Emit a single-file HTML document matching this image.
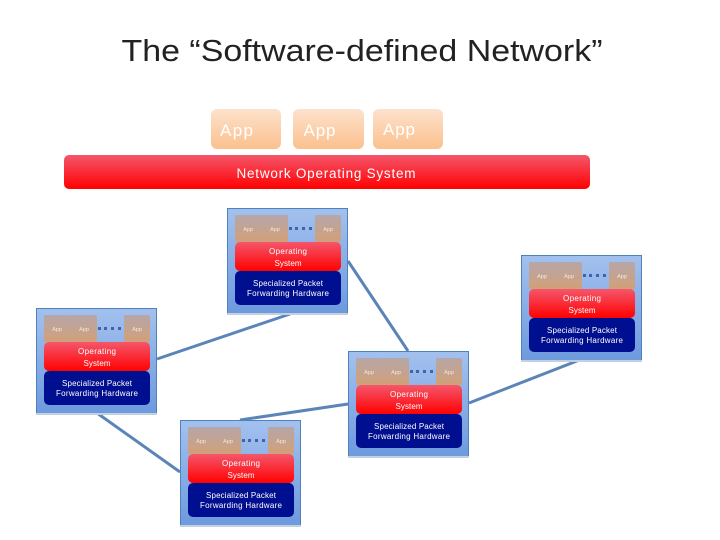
<!DOCTYPE html>
<html>
<head>
<meta charset="utf-8">
<style>
html,body{margin:0;padding:0;background:#fff;width:720px;height:540px;overflow:hidden}
svg{display:block}
text{font-family:"Liberation Sans",sans-serif;text-anchor:middle}
</style>
</head>
<body>
<svg width="720" height="540" viewBox="0 0 720 540" xmlns="http://www.w3.org/2000/svg">
<defs>
<linearGradient id="app" x1="0" y1="0" x2="0" y2="1"><stop offset="0" stop-color="#fde2cc"/><stop offset="1" stop-color="#fbc08e"/></linearGradient>
<linearGradient id="red" x1="0" y1="0" x2="0" y2="1"><stop offset="0" stop-color="#f4566a"/><stop offset=".45" stop-color="#f9303c"/><stop offset="1" stop-color="#ff0000"/></linearGradient>
<linearGradient id="box" x1="0" y1="0" x2="0" y2="1"><stop offset="0" stop-color="#a3c1ee"/><stop offset="1" stop-color="#6d9ade"/></linearGradient>
<linearGradient id="tan" x1="0" y1="0" x2="0" y2="1"><stop offset="0" stop-color="#b5a6a8"/><stop offset="1" stop-color="#d2a078"/></linearGradient>
<g id="sw">
  <rect x="0.5" y="0.5" width="120" height="105" fill="url(#box)" stroke="#4f81bd"/>
  <rect x="0" y="105" width="121" height="2" fill="#c4d0e0"/>
  <rect x="8" y="7" width="27" height="27" rx="2" fill="url(#tan)"/>
  <rect x="34" y="7" width="27" height="27" rx="2" fill="url(#tan)"/>
  <rect x="88" y="7" width="26" height="27" rx="2" fill="url(#tan)"/>
  <g fill="#3f64a8"><rect x="62" y="19" width="3" height="3"/><rect x="68" y="19" width="3" height="3"/><rect x="75" y="19" width="3" height="3"/><rect x="82" y="19" width="3" height="3"/></g>
  <rect x="8" y="34" width="106" height="29" rx="5" fill="url(#red)"/>
  <rect x="8" y="63" width="106" height="34" rx="5" fill="#000f8f"/>
  <g fill="#f2e8e0" font-size="5.5"><text x="21" y="23">App</text><text x="48" y="23">App</text><text x="101" y="23">App</text></g>
  <g fill="#fff" font-size="8">
    <text x="61" y="46" textLength="38" lengthAdjust="spacing">Operating</text>
    <text x="61" y="58" textLength="27" lengthAdjust="spacing">System</text>
    <text x="61" y="78" textLength="70" lengthAdjust="spacing">Specialized Packet</text>
    <text x="61" y="88" textLength="82" lengthAdjust="spacing">Forwarding Hardware</text>
  </g>
</g>
</defs>

<text x="362" y="61" font-size="31" fill="#222" textLength="481" lengthAdjust="spacingAndGlyphs">The “Software-defined Network”</text>

<rect x="211" y="109" width="70" height="40" rx="6" fill="url(#app)"/>
<rect x="293" y="109" width="71" height="40" rx="6" fill="url(#app)"/>
<rect x="373" y="109" width="70" height="40" rx="6" fill="url(#app)"/>
<g fill="#fff" font-size="17">
<text x="236.5" y="136" textLength="33" lengthAdjust="spacing">App</text>
<text x="319.5" y="136" textLength="32" lengthAdjust="spacing">App</text>
<text x="399" y="135" textLength="32" lengthAdjust="spacing">App</text>
</g>

<rect x="64" y="155" width="526" height="34" rx="5" fill="url(#red)"/>
<text x="326" y="178" font-size="13.5" fill="#fff" textLength="179" lengthAdjust="spacing">Network Operating System</text>

<g stroke="#5b84b8" stroke-width="3" fill="none">
<line x1="348" y1="261" x2="408" y2="351"/>
<line x1="157" y1="359" x2="290" y2="314"/>
<line x1="97" y1="413" x2="180" y2="472"/>
<line x1="469" y1="403" x2="582" y2="359"/>
<line x1="240" y1="420" x2="348" y2="404"/>
</g>

<use href="#sw" x="227" y="208"/>
<use href="#sw" x="521" y="255"/>
<use href="#sw" x="36" y="308"/>
<use href="#sw" x="348" y="351"/>
<use href="#sw" x="180" y="420"/>
</svg>
</body>
</html>
